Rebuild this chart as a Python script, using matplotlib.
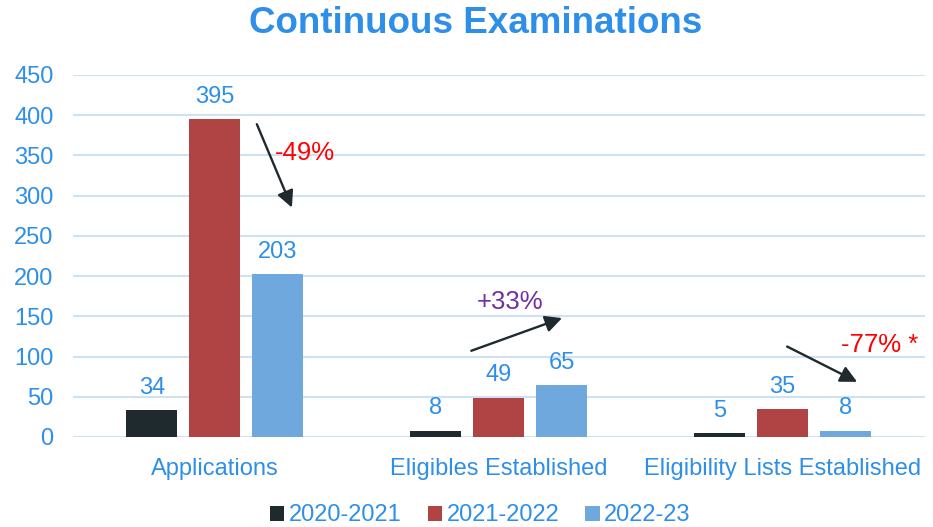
import matplotlib
matplotlib.use("Agg")
import matplotlib.pyplot as plt
import numpy as np

categories = ["Applications", "Eligibles Established", "Eligibility Lists Established"]
series_names = ["2020-2021", "2021-2022", "2022-23"]
v2020 = [34, 8, 5]
v2021 = [395, 49, 35]
v2022 = [203, 65, 8]
yticks = [0, 50, 100, 150, 200, 250, 300, 350, 400, 450]

colors = ["#1F2A2E", "#B04444", "#6FA8DC"]
txt_blue = "#2E8FE8"
plt.rcParams['font.family'] = ['Liberation Sans', 'DejaVu Sans']

fig = plt.figure(figsize=(9.33, 5.27), dpi=100)
ax = fig.add_axes([0.0782, 0.1708, 0.9128, 0.6869])

x = np.arange(len(categories))
w = 0.18
step = 0.222
for k, (vals, name, c) in enumerate(zip([v2020, v2021, v2022], series_names, colors)):
    pos = x + (k - 1) * step
    ax.bar(pos, vals, width=w, color=c, label=name, zorder=3)
    for p, v in zip(pos, vals):
        ax.annotate(str(v), (p, v), xytext=(0, 8), textcoords="offset points",
                    ha="center", va="bottom", fontsize=17, color=txt_blue)

ax.set_xlim(-0.5, 2.5)
ax.set_ylim(0, 450)
ax.set_yticks(yticks)
ax.set_xticks(x)
ax.set_xticklabels(categories)
ax.tick_params(axis="both", length=0, labelsize=17, labelcolor=txt_blue)
ax.tick_params(axis="y", pad=14)
ax.tick_params(axis="x", pad=15)
ax.grid(axis="y", color="#CFE2F3", linewidth=1.5, zorder=0)
for s in ax.spines.values():
    s.set_visible(False)

arrow_kw = dict(arrowstyle="-|>,head_length=1.0,head_width=0.5", color="#1F2A2E", lw=1.7)
ax.annotate("", xy=(0.275, 282), xytext=(0.144, 392), arrowprops=arrow_kw)
ax.text(0.317, 353, "-49%", color="#FF0000", fontsize=18.5, ha="center", va="center")
ax.annotate("", xy=(1.232, 149), xytext=(0.894, 106), arrowprops=arrow_kw)
ax.text(1.039, 168, "+33%", color="#7030A0", fontsize=18.5, ha="center", va="center")
ax.annotate("", xy=(2.271, 67), xytext=(2.007, 114), arrowprops=arrow_kw)
ax.text(2.342, 114, "-77% *", color="#FF0000", fontsize=18.5, ha="center", va="center")

fig.text(0.51, 0.955, "Continuous Examinations", ha="center", va="center",
         fontsize=26.5, fontweight="bold", color=txt_blue)

leg = fig.legend(loc="center", bbox_to_anchor=(0.515, 0.022), ncol=3, frameon=False,
                 fontsize=17, handlelength=0.6, handleheight=0.6, handletextpad=0.2,
                 columnspacing=1.1)
for t in leg.get_texts():
    t.set_color(txt_blue)

fig.savefig("out.png", dpi=100)
